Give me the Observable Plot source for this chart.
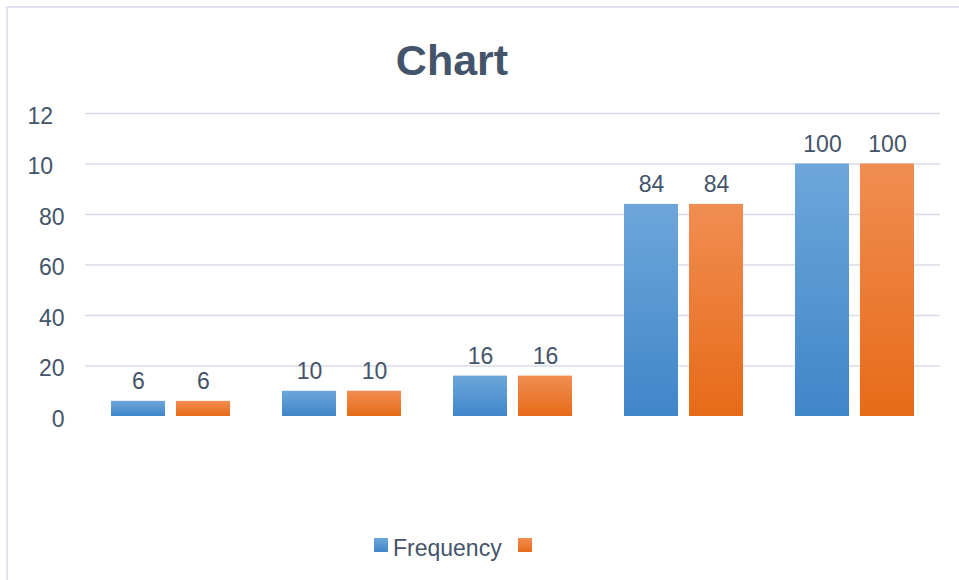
<!DOCTYPE html>
<html><head><meta charset="utf-8">
<script src="https://cdn.jsdelivr.net/npm/d3@7"></script>
<script src="https://cdn.jsdelivr.net/npm/@observablehq/plot@0.6"></script>
<style>
body{margin:0;background:#fff;font-family:"Liberation Sans",Arial,sans-serif;}
#wrap{position:relative;width:959px;height:580px;overflow:hidden;background:#fff;}
#wrap svg{position:absolute;left:0;top:0;background:transparent;}
#frame{position:absolute;left:6px;top:6px;width:990px;height:620px;border-left:2px solid #dfe1ec;border-top:2px solid #dfe1ec;pointer-events:none;}
#title{position:absolute;top:39px;left:0;width:904px;text-align:center;font-size:43px;line-height:43px;font-weight:bold;color:#44546a;}
#legend{position:absolute;left:374px;top:537px;display:flex;align-items:flex-start;font-size:23px;line-height:23px;color:#44546a;}
#legend .sw{width:14px;height:14px;margin-top:1px;margin-right:5px;}
#legend .lab{margin-right:16px;}
</style>
</head><body>
<div id="wrap">
  <div id="chart"></div>
  <div id="title">Chart</div>
  <div id="legend"></div>
  <div id="frame"></div>
</div>
<script>
const categories = ["1", "2", "3", "4", "5"];
const series = ["Frequency", ""];
const frequencyValues = [6, 10, 16, 84, 100];
const secondValues = [6, 10, 16, 84, 100];
const yTicks = [0, 20, 40, 60, 80, 100, 120];
const gridTicks = [20, 40, 60, 80, 100, 120];
const gradients = [["#6ea6da", "#3f86c9"], ["#f18d52", "#e66b18"]];
const gradIds = ["gradBlue", "gradOrange"];

const data = [];
categories.forEach((c, i) => {
  data.push({cat: c, series: series[0], value: frequencyValues[i]});
  data.push({cat: c, series: series[1], value: secondValues[i]});
});

const txt = "#44546a";
const tickText = v => String(v).slice(0, 2);

const svg = Plot.plot({
  width: 959,
  height: 580,
  marginTop: 113,
  marginBottom: 164,
  marginLeft: 84,
  marginRight: 19,
  style: {background: "transparent", fontFamily: "'Liberation Sans', Arial, sans-serif"},
  fx: {domain: categories, padding: 0, axis: null},
  x: {domain: series, paddingInner: 0.17, paddingOuter: 0.39, axis: null},
  y: {domain: [0, 120], axis: null},
  color: {type: "ordinal", domain: series, range: gradIds.map(id => `url(#${id})`)},
  marks: [
    Plot.ruleY(gridTicks, {stroke: "#d9dce8", strokeWidth: 1.5}),
    Plot.barY(data, {fx: "cat", x: "series", y: "value", fill: "series"}),
    Plot.text(data, {fx: "cat", x: "series", y: "value", text: d => String(d.value), lineAnchor: "bottom", dy: -12, fill: txt, fontSize: 23}),
    Plot.text(yTicks.filter(v => String(v).length <= 2), {fx: () => categories[0], y: d => d, text: tickText, frameAnchor: "left", textAnchor: "end", dx: -21, dy: 3, fill: txt, fontSize: 23}),
    Plot.text(yTicks.filter(v => String(v).length > 2), {fx: () => categories[0], y: d => d, text: tickText, frameAnchor: "left", textAnchor: "start", dx: -58, dy: 3, fill: txt, fontSize: 23})
  ]
});

const defs = d3.select(svg).insert("defs", ":first-child");
gradIds.forEach((id, i) => {
  const g = defs.append("linearGradient").attr("id", id).attr("x1", 0).attr("y1", 0).attr("x2", 0).attr("y2", 1);
  g.append("stop").attr("offset", "0%").attr("stop-color", gradients[i][0]);
  g.append("stop").attr("offset", "100%").attr("stop-color", gradients[i][1]);
});
document.getElementById("chart").appendChild(svg);

const legend = document.getElementById("legend");
series.forEach((s, i) => {
  const sw = document.createElement("div");
  sw.className = "sw";
  sw.style.background = `linear-gradient(${gradients[i][0]}, ${gradients[i][1]})`;
  legend.appendChild(sw);
  if (s) {
    const lab = document.createElement("div");
    lab.className = "lab";
    lab.textContent = s;
    legend.appendChild(lab);
  }
});
</script>
</body></html>
